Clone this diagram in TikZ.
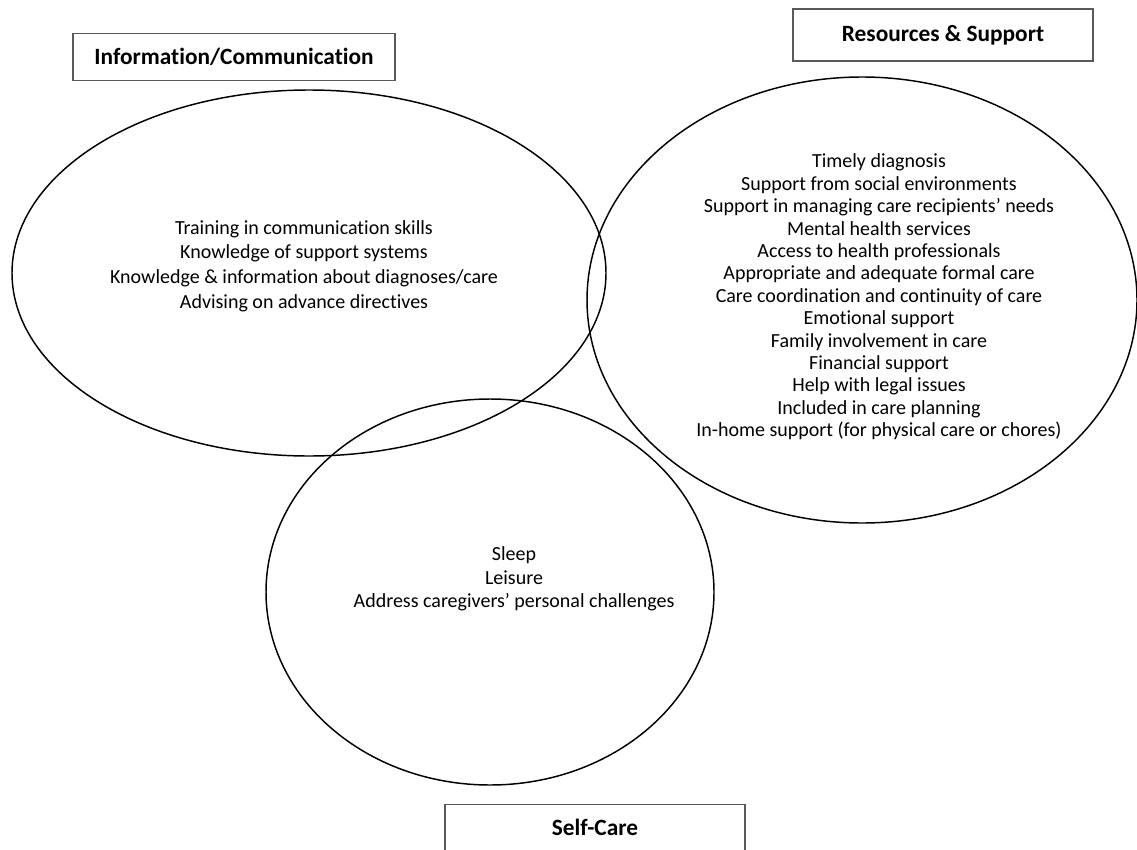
\documentclass[tikz,border=0pt]{standalone}
\usepackage{fontspec}
\setmainfont{Carlito}[Ligatures=NoCommon]
\begin{document}
\begin{tikzpicture}[x=0.75pt,y=-0.75pt,
  titlebox/.style={draw=black!65,line width=0.8pt,inner sep=0pt,font=\fontsize{17.5}{20}\selectfont\bfseries},
  venn/.style={draw=black,line width=1.1pt},
  items/.style={align=center,inner sep=0pt,font=\fontsize{15}{18.4}\selectfont}]
\useasboundingbox (0,0) rectangle (1137,849);
% ellipses
\draw[venn] (309,273) ellipse [x radius=297, y radius=183];
\draw[venn] (862,300) ellipse [x radius=275, y radius=223];
\draw[venn] (490,592) ellipse [x radius=224, y radius=193];
% title boxes
\node[titlebox,minimum width=322*0.75pt,minimum height=47*0.75pt] (info) at (234,57) {Information/Communication};
\node[titlebox,minimum width=300*0.75pt,minimum height=52*0.75pt] (res) at (943,35) {Resources \& Support};
\node[titlebox,minimum width=300*0.75pt,minimum height=70*0.75pt,anchor=north] (self) at (595,804) {};
\node[font=\fontsize{17.5}{20}\selectfont\bfseries] (selft) at (595,827) {Self-Care};
% item lists
\node[items] (infoitems) at (304,266) {Training in communication skills\\Knowledge of support systems\\Knowledge \& information about diagnoses/care\\Advising on advance directives};
\node[items,font=\fontsize{15}{16.8}\selectfont] (resitems) at (879,297) {Timely diagnosis\\Support from social environments\\Support in managing care recipients’ needs\\Mental health services\\Access to health professionals\\Appropriate and adequate formal care\\Care coordination and continuity of care\\Emotional support\\Family involvement in care\\Financial support\\Help with legal issues\\Included in care planning\\In-home support (for physical care or chores)};
\node[items,font=\fontsize{15}{17.6}\selectfont] (selfitems) at (514,579) {Sleep\\Leisure\\Address caregivers’ personal challenges};
\end{tikzpicture}
\end{document}
